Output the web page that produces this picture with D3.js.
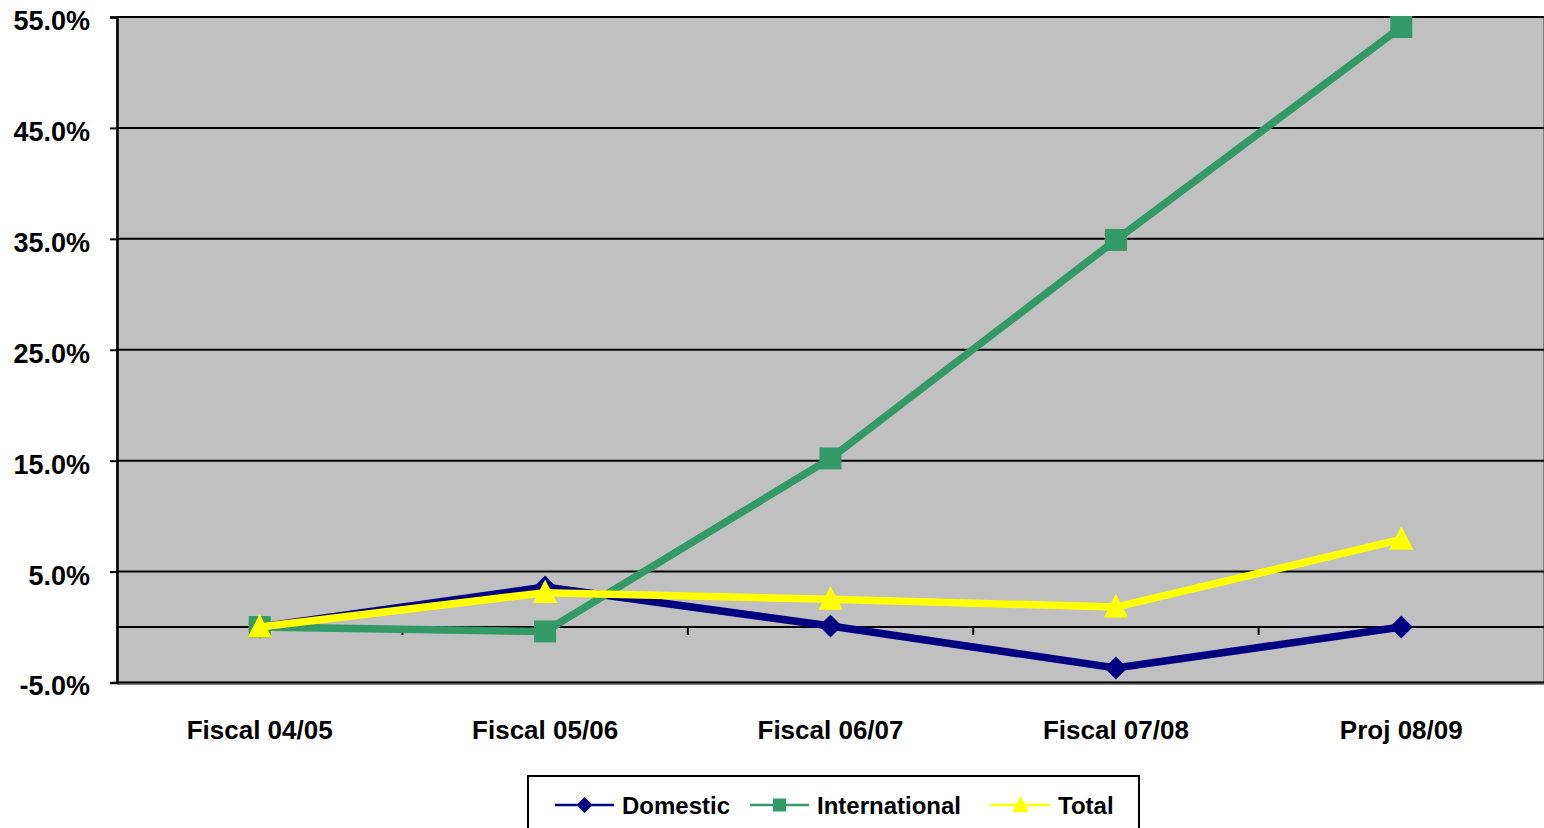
<!DOCTYPE html>
<html>
<head>
<meta charset="utf-8">
<script src="https://cdn.jsdelivr.net/npm/d3@7"></script>
<style>
  html, body { margin: 0; padding: 0; background: #fff; }
  svg { display: block; }
  text { font-family: "Liberation Sans", Arial, sans-serif; font-weight: bold; fill: #000; }
</style>
</head>
<body>
<svg id="chart" width="1544" height="828"></svg>
<script>
// Year-over-year growth, in percent
const categories = ["Fiscal 04/05", "Fiscal 05/06", "Fiscal 06/07", "Fiscal 07/08", "Proj 08/09"];
const domestic = [0.0, 3.6, 0.1, -3.7, 0.0];
const international = [0.0, -0.4, 15.2, 34.9, 54.1];
const total = [0.0, 3.1, 2.5, 1.8, 7.9];
const yTicks = [-5, 5, 15, 25, 35, 45, 55];

const series = [
  { name: "Domestic", values: domestic, color: "#000080", marker: "diamond" },
  { name: "International", values: international, color: "#339966", marker: "square" },
  { name: "Total", values: total, color: "#FFFF00", marker: "triangle" }
];

const svg = d3.select("#chart");
const plot = { left: 117, top: 17, right: 1544, bottom: 682.5 };

const x = d3.scaleBand().domain(categories).range([plot.left, plot.right]);
const y = d3.scaleLinear().domain([-5, 55]).range([plot.bottom, plot.top]);

// plot background and frame
svg.append("rect")
  .attr("x", plot.left).attr("y", plot.top)
  .attr("width", plot.right - plot.left).attr("height", plot.bottom - plot.top)
  .attr("fill", "#C0C0C0").attr("stroke", "#808080").attr("stroke-width", 2);
svg.append("line")
  .attr("x1", plot.left).attr("x2", plot.right)
  .attr("y1", plot.bottom + 1.5).attr("y2", plot.bottom + 1.5)
  .attr("stroke", "#8a8a8a").attr("stroke-width", 2);

// horizontal gridlines
svg.append("g").selectAll("line").data(yTicks).join("line")
  .attr("x1", plot.left).attr("x2", plot.right)
  .attr("y1", d => y(d)).attr("y2", d => y(d))
  .attr("stroke", "#000").attr("stroke-width", 2);

// value axis
const pct = d3.format(".1f");
const yAxis = d3.axisLeft(y).tickValues(yTicks).tickSize(7).tickPadding(20)
  .tickFormat(d => pct(d).replace("\u2212", "-") + "%");
const yg = svg.append("g").attr("transform", `translate(${plot.left},0)`).call(yAxis);
yg.select(".domain").attr("stroke", "#000").attr("stroke-width", 2.5);
yg.selectAll(".tick line").attr("stroke", "#000").attr("stroke-width", 2);
yg.selectAll(".tick text").attr("font-size", 27).attr("font-weight", "bold")
  .attr("font-family", "'Liberation Sans', Arial, sans-serif").attr("fill", "#000")
  .attr("dy", "0.46em");

// category axis crossing at zero
const xg = svg.append("g").attr("transform", `translate(0,${y(0)})`);
xg.append("line").attr("x1", plot.left).attr("x2", plot.right)
  .attr("stroke", "#000").attr("stroke-width", 2);
xg.selectAll(".ctick").data(categories.slice(1)).join("line")
  .attr("class", "ctick")
  .attr("x1", d => x(d)).attr("x2", d => x(d))
  .attr("y1", 0).attr("y2", 8)
  .attr("stroke", "#000").attr("stroke-width", 2);

// category labels below the plot
svg.append("g").selectAll("text").data(categories).join("text")
  .attr("x", d => x(d) + x.bandwidth() / 2)
  .attr("y", 739)
  .attr("text-anchor", "middle")
  .attr("font-size", 26)
  .text(d => d);

const cx = d => x(d) + x.bandwidth() / 2;

function markerPath(type, s) {
  if (type === "diamond") return `M0,${-s}L${s},0L0,${s}L${-s},0Z`;
  if (type === "square") return `M${-s},${-s}H${s}V${s}H${-s}Z`;
  return `M0,${-s * 1.15}L${s * 1.05},${s * 0.9}L${-s * 1.05},${s * 0.9}Z`;
}

const line = d3.line().x((d, i) => cx(categories[i])).y(d => y(d));

series.forEach(s => {
  const g = svg.append("g");
  g.append("path").datum(s.values)
    .attr("d", line)
    .attr("fill", "none").attr("stroke", s.color)
    .attr("stroke-width", 7.5).attr("stroke-linejoin", "miter");
  const size = s.marker === "square" ? 11 : 11.5;
  g.selectAll("path.m").data(s.values).join("path")
    .attr("class", "m")
    .attr("transform", (d, i) => `translate(${cx(categories[i])},${y(d)})`)
    .attr("d", markerPath(s.marker, size))
    .attr("fill", s.color);
});

// legend
const legend = svg.append("g");
legend.append("rect").attr("x", 528).attr("y", 776).attr("width", 611).attr("height", 60)
  .attr("fill", "#fff").attr("stroke", "#000").attr("stroke-width", 2);
const legendX = [555, 750, 991];
series.forEach((s, i) => {
  const lx = legendX[i];
  legend.append("line").attr("x1", lx).attr("x2", lx + 59)
    .attr("y1", 805).attr("y2", 805)
    .attr("stroke", s.color).attr("stroke-width", 2.5);
  legend.append("path")
    .attr("transform", `translate(${lx + 29.5},805)`)
    .attr("d", markerPath(s.marker, s.marker === "square" ? 6.5 : 8))
    .attr("fill", s.color);
  legend.append("text").attr("x", lx + 67).attr("y", 814)
    .attr("font-size", 24)
    .text(s.name);
});
</script>
</body>
</html>
